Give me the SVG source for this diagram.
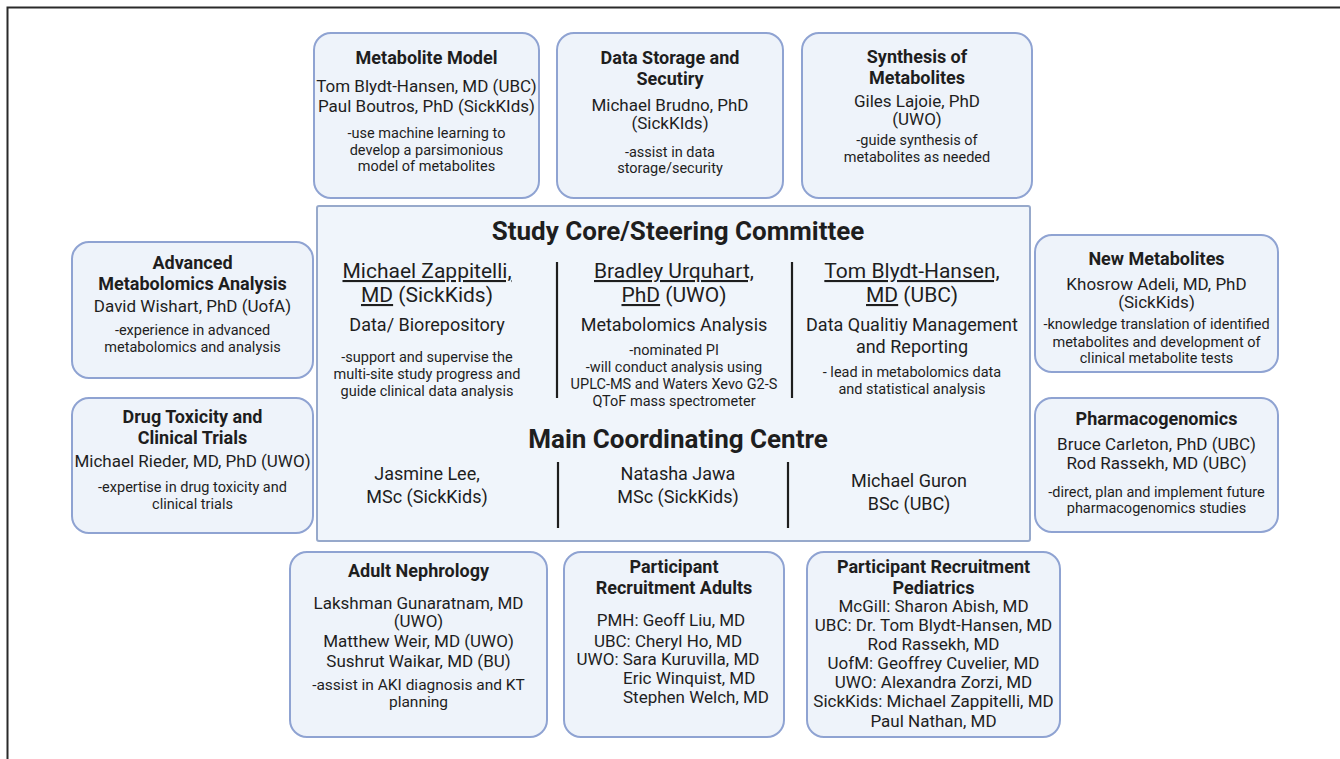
<svg xmlns="http://www.w3.org/2000/svg" width="1340" height="759" viewBox="0 0 1340 759">
<style>
text{font-family:Roboto,"Liberation Sans",sans-serif;fill:#1e1e1e;text-anchor:middle}
.box{fill:#eef3fa;stroke:#8fa3d2;stroke-width:2}
.core{fill:#f0f5fb;stroke:#97a9cb;stroke-width:2}
.t{font-weight:bold;font-size:18px}
.n{font-size:17px}
.d{font-size:14.5px}
.s{font-size:15.5px}
.h{font-weight:bold;font-size:26px}
.cn{font-size:21px}
.cr{font-size:18px}
.cd{font-size:14.5px}
.div{stroke:#1e1e1e;stroke-width:2.2}
.frame{stroke:#2a2a2a;stroke-width:2;fill:none}
.l{text-anchor:start}
</style>
<path class="frame" d="M7.5 759V7.5H1340"/>

<g id="metabolite-model">
<rect class="box" x="314" y="33" width="225" height="165" rx="17"/>
<text class="t" x="426.5" y="64">Metabolite Model</text>
<text class="n" x="426.5" y="92">Tom Blydt-Hansen, MD (UBC)</text>
<text class="n" x="426.5" y="112">Paul Boutros, PhD (SickKIds)</text>
<text class="d" x="426.5" y="138">-use machine learning to</text>
<text class="d" x="426.5" y="155">develop a parsimonious</text>
<text class="d" x="426.5" y="171">model of metabolites</text>
</g>

<g id="data-storage">
<rect class="box" x="557" y="33" width="226" height="165" rx="17"/>
<text class="t" x="670" y="64">Data Storage and</text>
<text class="t" x="670" y="85">Secutiry</text>
<text class="n" x="670" y="111">Michael Brudno, PhD</text>
<text class="n" x="670" y="129">(SickKIds)</text>
<text class="d" x="670" y="157">-assist in data</text>
<text class="d" x="670" y="173">storage/security</text>
</g>

<g id="synthesis">
<rect class="box" x="802" y="33" width="230" height="165" rx="17"/>
<text class="t" x="917" y="63">Synthesis of</text>
<text class="t" x="917" y="84">Metabolites</text>
<text class="n" x="917" y="107">Giles Lajoie, PhD</text>
<text class="n" x="917" y="125">(UWO)</text>
<text class="d" x="917" y="145">-guide synthesis of</text>
<text class="d" x="917" y="162">metabolites as needed</text>
</g>

<g id="advanced-metabolomics">
<rect class="box" x="72" y="242" width="241" height="136" rx="17"/>
<text class="t" x="192.5" y="269">Advanced</text>
<text class="t" x="192.5" y="290">Metabolomics Analysis</text>
<text class="n" x="192.5" y="312">David Wishart, PhD (UofA)</text>
<text class="d" x="192.5" y="335">-experience in advanced</text>
<text class="d" x="192.5" y="352">metabolomics and analysis</text>
</g>

<g id="drug-toxicity">
<rect class="box" x="72" y="398" width="241" height="135" rx="17"/>
<text class="t" x="192.5" y="423">Drug Toxicity and</text>
<text class="t" x="192.5" y="444">Clinical Trials</text>
<text class="n" x="192.5" y="467">Michael Rieder, MD, PhD (UWO)</text>
<text class="d" x="192.5" y="492">-expertise in drug toxicity and</text>
<text class="d" x="192.5" y="509">clinical trials</text>
</g>

<g id="new-metabolites">
<rect class="box" x="1035" y="235" width="243" height="137" rx="17"/>
<text class="t" x="1156.5" y="265">New Metabolites</text>
<text class="n" x="1156.5" y="290">Khosrow Adeli, MD, PhD</text>
<text class="n" x="1156.5" y="308">(SickKids)</text>
<text class="d" x="1156.5" y="329">-knowledge translation of identified</text>
<text class="d" x="1156.5" y="347">metabolites and development of</text>
<text class="d" x="1156.5" y="363">clinical metabolite tests</text>
</g>

<g id="pharmacogenomics">
<rect class="box" x="1035" y="398" width="243" height="134" rx="17"/>
<text class="t" x="1156.5" y="425">Pharmacogenomics</text>
<text class="n" x="1156.5" y="450">Bruce Carleton, PhD (UBC)</text>
<text class="n" x="1156.5" y="469">Rod Rassekh, MD (UBC)</text>
<text class="d" x="1156.5" y="497">-direct, plan and implement future</text>
<text class="d" x="1156.5" y="513">pharmacogenomics studies</text>
</g>

<g id="study-core">
<rect class="core" x="317" y="206" width="713" height="335" rx="2"/>
<text class="h" x="678" y="240">Study Core/Steering Committee</text>
<text class="cn" x="427" y="278" text-decoration="underline">Michael Zappitelli,</text>
<text class="cn" x="427" y="302"><tspan text-decoration="underline">MD</tspan> (SickKids)</text>
<text class="cr" x="427" y="331">Data/ Biorepository</text>
<text class="cd" x="427" y="362">-support and supervise the</text>
<text class="cd" x="427" y="379">multi-site study progress and</text>
<text class="cd" x="427" y="396">guide clinical data analysis</text>
<text class="cn" x="674" y="278" text-decoration="underline">Bradley Urquhart,</text>
<text class="cn" x="674" y="302"><tspan text-decoration="underline">PhD</tspan> (UWO)</text>
<text class="cr" x="674" y="331">Metabolomics Analysis</text>
<text class="cd" x="674" y="355">-nominated PI</text>
<text class="cd" x="674" y="372">-will conduct analysis using</text>
<text class="cd" x="674" y="389">UPLC-MS and Waters Xevo G2-S</text>
<text class="cd" x="674" y="406">QToF mass spectrometer</text>
<text class="cn" x="912" y="278" text-decoration="underline">Tom Blydt-Hansen,</text>
<text class="cn" x="912" y="302"><tspan text-decoration="underline">MD</tspan> (UBC)</text>
<text class="cr" x="912" y="331">Data Qualitiy Management</text>
<text class="cr" x="912" y="353">and Reporting</text>
<text class="cd" x="912" y="377">- lead in metabolomics data</text>
<text class="cd" x="912" y="394">and statistical analysis</text>
<line class="div" x1="557" y1="262" x2="557" y2="398"/>
<line class="div" x1="792" y1="262" x2="792" y2="398"/>
<text class="h" x="678" y="448">Main Coordinating Centre</text>
<text class="cr" x="427" y="480">Jasmine Lee,</text>
<text class="cr" x="427" y="503">MSc (SickKids)</text>
<text class="cr" x="678" y="480">Natasha Jawa</text>
<text class="cr" x="678" y="503">MSc (SickKids)</text>
<text class="cr" x="909" y="487">Michael Guron</text>
<text class="cr" x="909" y="510">BSc (UBC)</text>
<line class="div" x1="558" y1="462" x2="558" y2="528"/>
<line class="div" x1="788" y1="462" x2="788" y2="528"/>
</g>

<g id="adult-nephrology">
<rect class="box" x="290" y="552" width="257" height="185" rx="17"/>
<text class="t" x="418.5" y="577">Adult Nephrology</text>
<text class="n" x="418.5" y="609">Lakshman Gunaratnam, MD</text>
<text class="n" x="418.5" y="627">(UWO)</text>
<text class="n" x="418.5" y="647">Matthew Weir, MD (UWO)</text>
<text class="n" x="418.5" y="667">Sushrut Waikar, MD (BU)</text>
<text class="s" x="418.5" y="690">-assist in AKI diagnosis and KT</text>
<text class="s" x="418.5" y="707">planning</text>
</g>

<g id="recruitment-adults">
<rect class="box" x="564" y="552" width="220" height="185" rx="17"/>
<text class="t" x="674" y="573">Participant</text>
<text class="t" x="674" y="594">Recruitment Adults</text>
<text class="n" x="671" y="626">PMH: Geoff Liu, MD</text>
<text class="n" x="668" y="647">UBC: Cheryl Ho, MD</text>
<text class="n" x="668" y="665">UWO: Sara Kuruvilla, MD</text>
<text class="n l" x="623" y="684">Eric Winquist, MD</text>
<text class="n l" x="623" y="703">Stephen Welch, MD</text>
</g>

<g id="recruitment-pediatrics">
<rect class="box" x="807" y="552" width="253" height="185" rx="17"/>
<text class="t" x="933.5" y="573">Participant Recruitment</text>
<text class="t" x="933.5" y="594">Pediatrics</text>
<text class="n" x="933.5" y="612">McGill: Sharon Abish, MD</text>
<text class="n" x="933.5" y="631">UBC: Dr. Tom Blydt-Hansen, MD</text>
<text class="n" x="933.5" y="650">Rod Rassekh, MD</text>
<text class="n" x="933.5" y="669">UofM: Geoffrey Cuvelier, MD</text>
<text class="n" x="933.5" y="688">UWO: Alexandra Zorzi, MD</text>
<text class="n" x="933.5" y="707">SickKids: Michael Zappitelli, MD</text>
<text class="n" x="933.5" y="727">Paul Nathan, MD</text>
</g>
</svg>
